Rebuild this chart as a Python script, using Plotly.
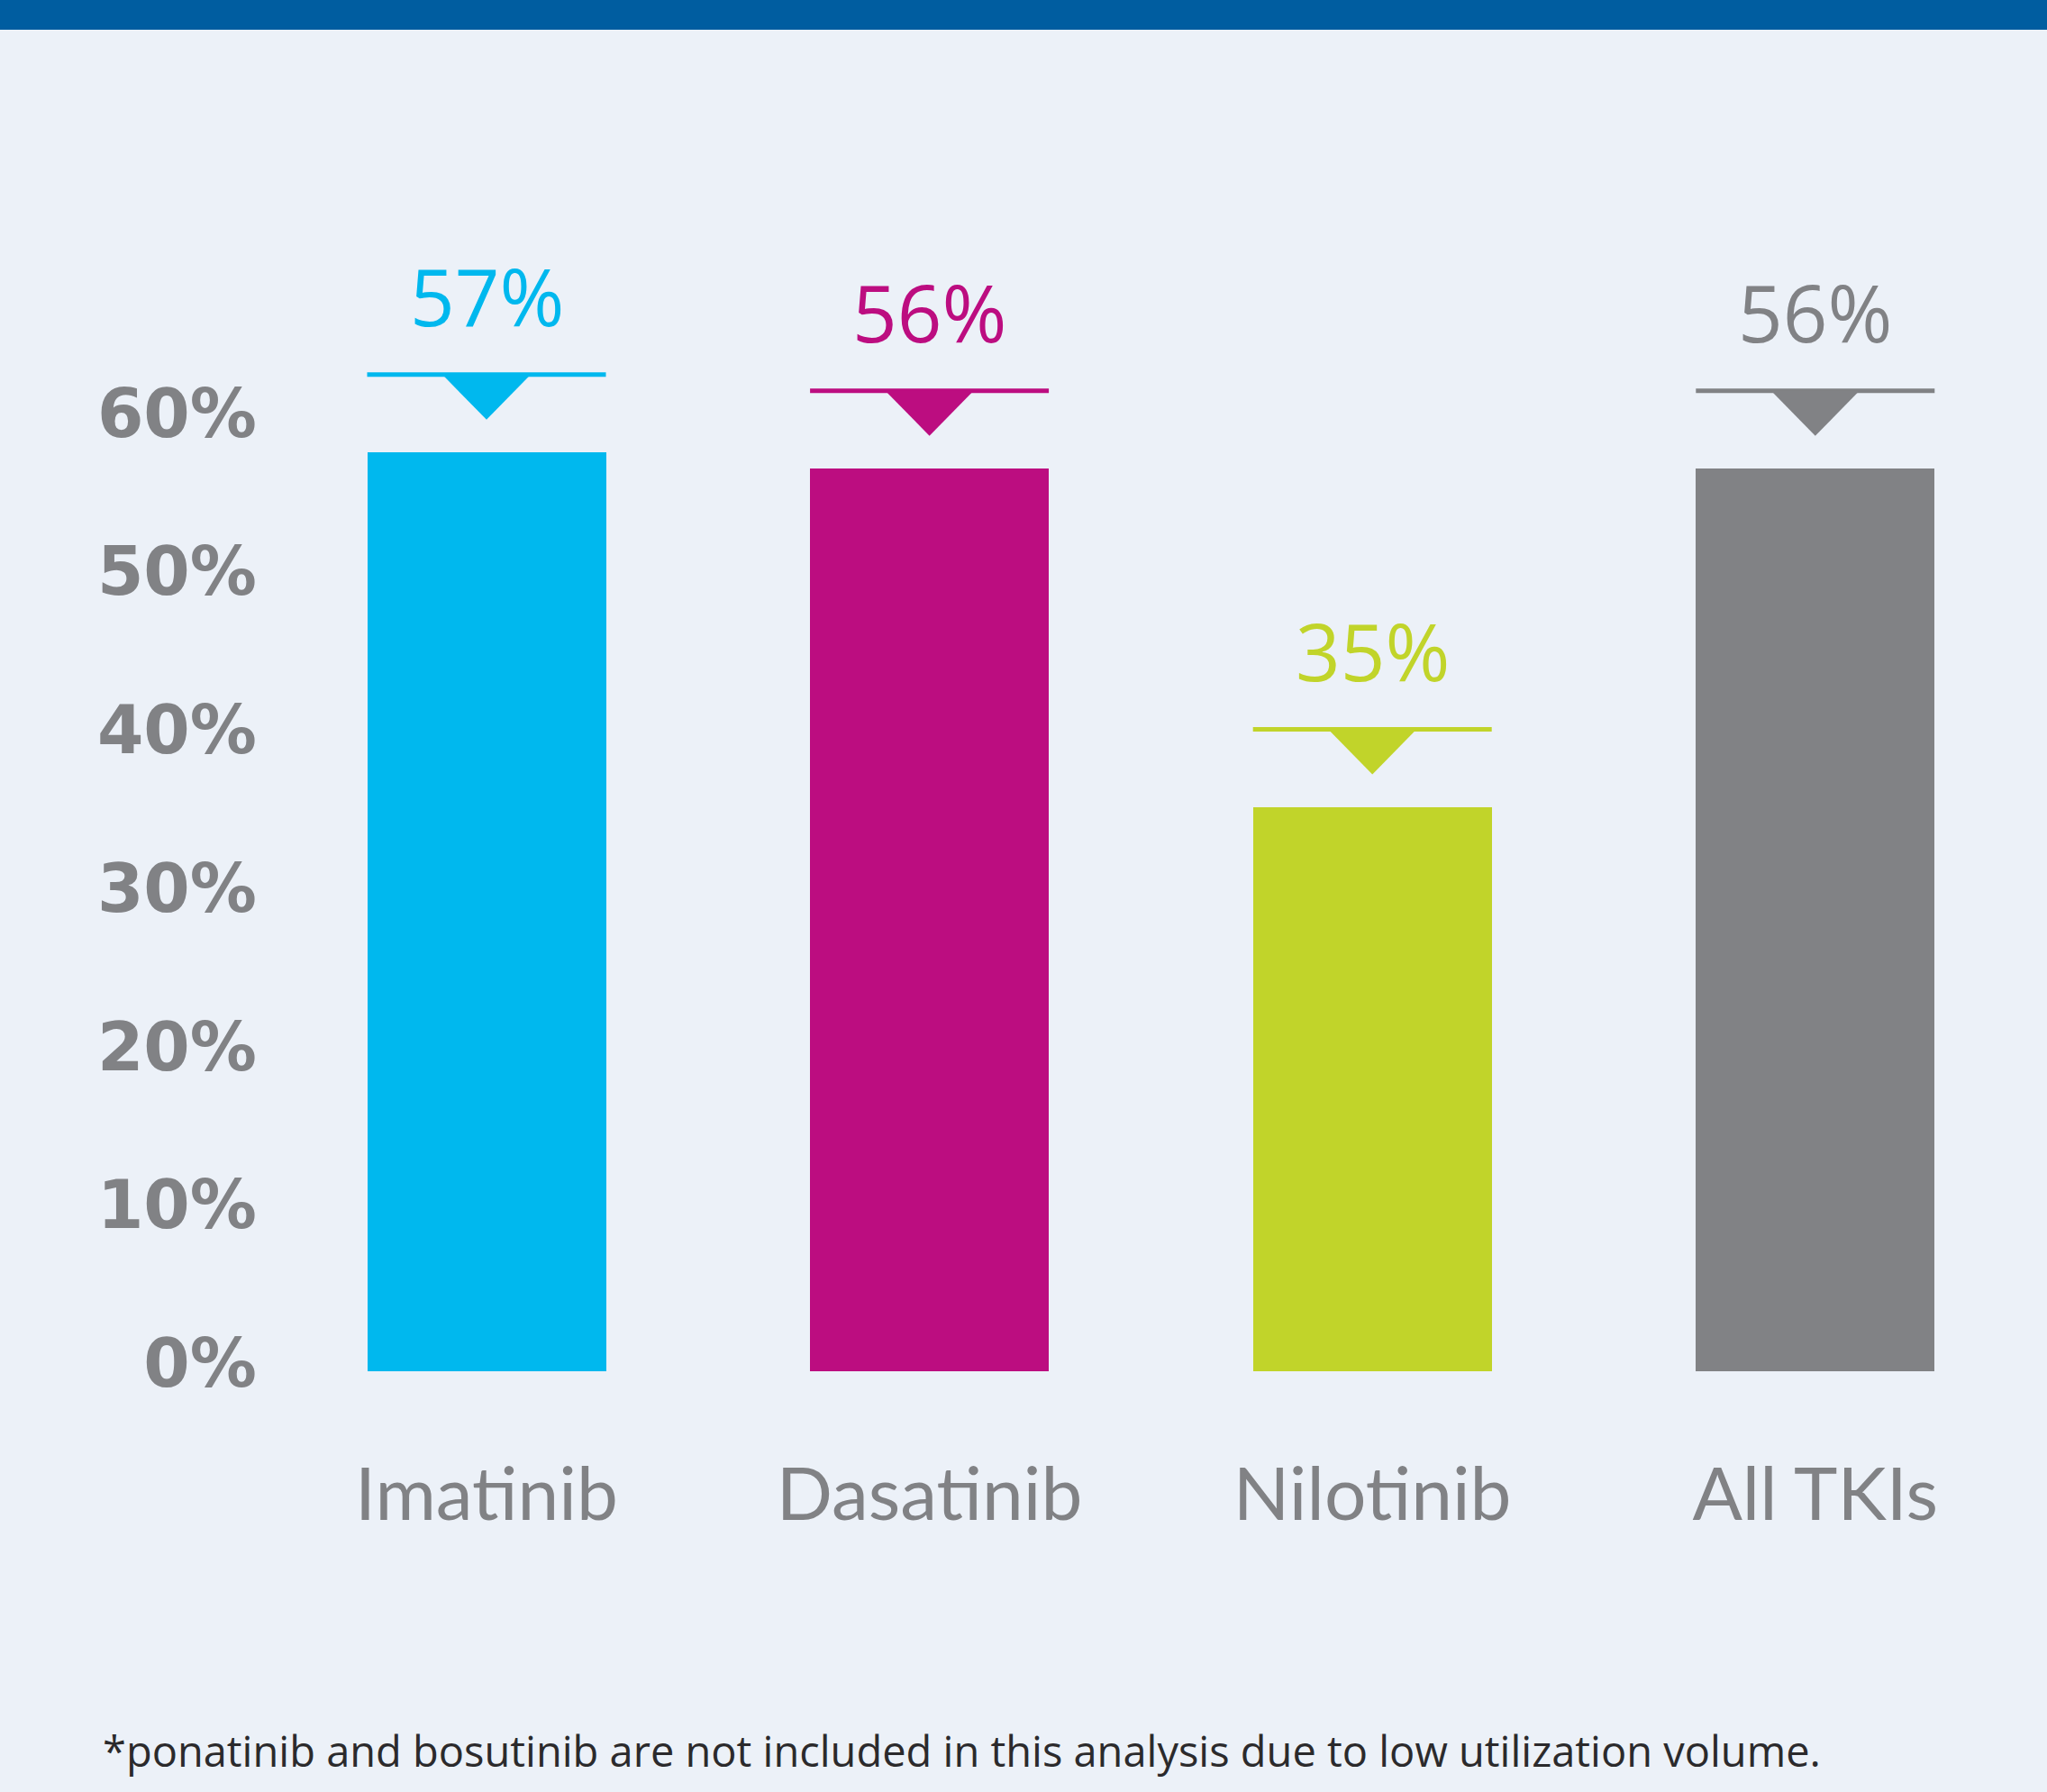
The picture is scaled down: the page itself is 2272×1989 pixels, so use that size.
import plotly.graph_objects as go

# ---- data ----
categories = ["Imatinib", "Dasatinib", "Nilotinib", "All TKIs"]
values = [57, 56, 35, 56]
value_labels = ["57%", "56%", "35%", "56%"]
bar_colors = ["#00B8EE", "#BC0D80", "#C1D42A", "#818285"]
y_tick_values = [0, 10, 20, 30, 40, 50, 60]
y_tick_labels = ["0%", "10%", "20%", "30%", "40%", "50%", "60%"]
footnote = "*ponatinib and bosutinib are not included in this analysis due to low utilization volume."

# ---- layout geometry ----
W, H = 2272, 1989
ML, MR, MT, MB = 298, 34, 126, 467
plot_w = W - ML - MR
plot_h = H - MT - MB

x_px_per_unit = 491.6
x_first_px = 540
x_range = [-(x_first_px - ML) / x_px_per_unit, (W - MR - x_first_px) / x_px_per_unit]
y_range = [0, 78]
px_per_y = plot_h / (y_range[1] - y_range[0])

# tick-label axis (slightly different scale in the original artwork)
tick_zero_px = 1513
tick_px_per_unit = 17.57
y2_range = [-(H - MB - tick_zero_px) / tick_px_per_unit, (tick_zero_px - MT) / tick_px_per_unit]

BG = "#ECF1F8"
HEADER = "#005DA0"
GREY = "#818285"

bar_width = 265 / x_px_per_unit
line_gap = 86 / px_per_y
tri_half = 49 / x_px_per_unit
tri_h = 50 / px_per_y

xs = list(range(len(categories)))

fig = go.Figure()
fig.add_trace(go.Bar(
    x=xs, y=values, width=bar_width,
    marker=dict(color=bar_colors, line=dict(width=0)),
    hoverinfo="skip", showlegend=False,
))
# invisible trace so the tick-label axis is drawn
fig.add_trace(go.Scatter(
    x=[xs[0]], y=[y_tick_values[0]], yaxis="y2", mode="markers",
    marker=dict(opacity=0), hoverinfo="skip", showlegend=False,
))

shapes = []
annotations = []
for i, (v, lab, c) in enumerate(zip(values, value_labels, bar_colors)):
    ly = v + line_gap
    shapes.append(dict(type="line", xref="x", yref="y",
                       x0=i - bar_width / 2, x1=i + bar_width / 2, y0=ly, y1=ly,
                       line=dict(color=c, width=5)))
    shapes.append(dict(type="path", xref="x", yref="y",
                       path=f"M {i - tri_half},{ly} L {i + tri_half},{ly} L {i},{ly - tri_h} Z",
                       fillcolor=c, line=dict(width=0)))
    annotations.append(dict(x=i, y=ly, xref="x", yref="y", text=lab, showarrow=False,
                            yanchor="middle", xanchor="center", yshift=88,
                            font=dict(family="Open Sans", size=87, color=c)))

# header band
shapes.append(dict(type="rect", xref="paper", yref="paper",
                   x0=-ML / plot_w - 0.01, x1=1 + MR / plot_w + 0.01,
                   y0=1 + (MT - 33) / plot_h, y1=1 + (MT + 5) / plot_h,
                   fillcolor=HEADER, line=dict(width=0), layer="above"))

annotations.append(dict(x=(112 - ML) / plot_w, y=-(1943 - (H - MB)) / plot_h,
                        xref="paper", yref="paper", text=footnote, showarrow=False,
                        xanchor="left", yanchor="middle",
                        font=dict(family="Open Sans", size=47, color="#2B2A2C")))

fig.update_layout(
    width=W, height=H,
    margin=dict(l=ML, r=MR, t=MT, b=MB, pad=0),
    paper_bgcolor=BG, plot_bgcolor=BG,
    shapes=shapes, annotations=annotations,
    bargap=0,
    xaxis=dict(range=x_range, tickmode="array", tickvals=xs, ticktext=categories,
               showgrid=False, zeroline=False, showline=False, ticks="",
               tickfont=dict(family="Lato", size=82, color=GREY),
               ticklabelstandoff=82),
    yaxis=dict(range=y_range, showticklabels=False,
               showgrid=False, zeroline=False, showline=False, ticks=""),
    yaxis2=dict(range=y2_range, overlaying="y", side="left",
                tickmode="array", tickvals=y_tick_values, ticktext=y_tick_labels,
                showgrid=False, zeroline=False, showline=False, ticks="",
                tickfont=dict(family="DejaVu Sans", size=74, color=GREY, weight="bold"),
                ticklabelstandoff=12),
)

fig.write_html("out.html")
